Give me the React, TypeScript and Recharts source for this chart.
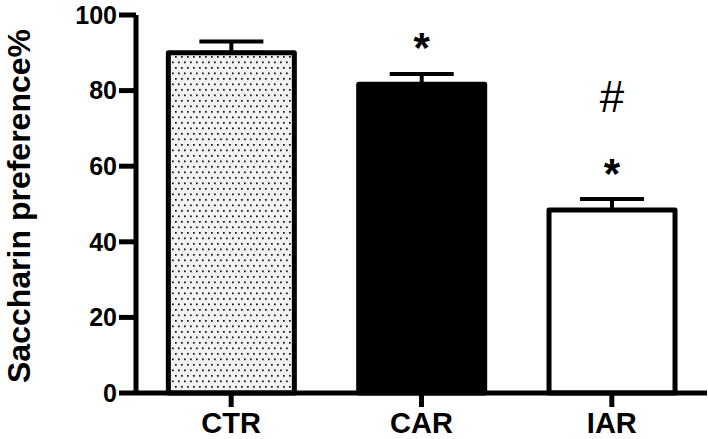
import React from 'react';
import { BarChart, Bar, XAxis, YAxis, Cell, ErrorBar, LabelList, Label } from 'recharts';

const groups = ['CTR', 'CAR', 'IAR'];
const preference = [90, 81.7, 48.4];
const sem = [3, 2.7, 2.9];
const vsControl = ['', '*', '*'];
const vsCar = ['', '', '#'];
const yTicks = [0, 20, 40, 60, 80, 100];

const fills = ['url(#dots)', '#000000', '#ffffff'];

const data = groups.map((g, i) => ({
  group: g,
  value: preference[i],
  err: [0, sem[i]],
  star: vsControl[i],
  hash: vsCar[i],
}));

const FONT = '"Liberation Sans", Arial, Helvetica, sans-serif';

// marks drawn above a bar, offset from the bar top
const mark = (dy: number, size: number, weight: string) => (props: any) => {
  const vb = props.viewBox || props;
  if (!props.value) return null;
  return (
    <text
      x={vb.x + vb.width / 2}
      y={vb.y - dy}
      textAnchor="middle"
      fontFamily={FONT}
      fontSize={size}
      fontWeight={weight}
      fill="#000"
    >
      {props.value}
    </text>
  );
};

export default function App() {
  return (
    <div style={{ width: 708, height: 439, background: '#fff' }}>
      <style>{'body{margin:0}'}</style>
      <BarChart
        width={708}
        height={439}
        data={data}
        margin={{ top: 15, right: 1, left: 0, bottom: 0 }}
        barCategoryGap="17%"
      >
        <defs>
          <pattern id="dots" width="6" height="11" patternUnits="userSpaceOnUse">
            <rect width="6" height="11" fill="#f2f2f2" />
            <rect x="1" y="1" width="1.7" height="1.7" fill="#111" />
            <rect x="4" y="6.5" width="1.7" height="1.7" fill="#111" />
          </pattern>
        </defs>
        <XAxis
          dataKey="group"
          height={46}
          axisLine={{ stroke: '#000', strokeWidth: 5 }}
          tickLine={{ stroke: '#000', strokeWidth: 5 }}
          tickSize={14}
          tickMargin={5}
          tick={{ fill: '#000', fontSize: 29, fontWeight: 'bold', fontFamily: FONT }}
        />
        <YAxis
          width={136}
          domain={[0, 100]}
          ticks={yTicks}
          interval={0}
          axisLine={{ stroke: '#000', strokeWidth: 5 }}
          tickLine={{ stroke: '#000', strokeWidth: 5 }}
          tickSize={17}
          tickMargin={2}
          tick={{ fill: '#000', fontSize: 25, fontWeight: 'bold', fontFamily: FONT }}
        >
          <Label
            content={() => (
              <text
                transform="translate(30,206) rotate(-90)"
                textAnchor="middle"
                fontFamily={FONT}
                fontSize={32}
                fontWeight="bold"
                fill="#000"
              >
                Saccharin preference%
              </text>
            )}
          />
        </YAxis>
        <Bar
          dataKey="value"
          stroke="#000"
          strokeWidth={5}
          strokeLinejoin="round"
          isAnimationActive={false}
        >
          {data.map((d, i) => (
            <Cell key={d.group} fill={fills[i]} />
          ))}
          <ErrorBar dataKey="err" width={32} stroke="#000" strokeWidth={4} direction="y" />
          <LabelList dataKey="star" content={mark(22, 42, 'bold')} />
          <LabelList dataKey="hash" content={mark(98, 44, 'normal')} />
        </Bar>
      </BarChart>
    </div>
  );
}
